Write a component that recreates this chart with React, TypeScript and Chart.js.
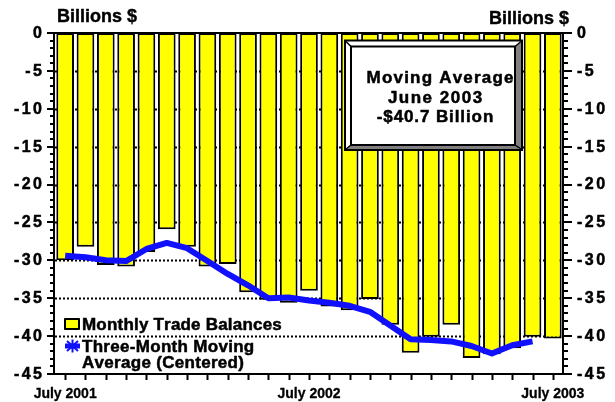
import React, { useEffect, useRef } from "react";
import { Chart, registerables } from "chart.js";

Chart.register(...registerables);

const months = [
  "Jul 2001", "Aug 2001", "Sep 2001", "Oct 2001", "Nov 2001", "Dec 2001",
  "Jan 2002", "Feb 2002", "Mar 2002", "Apr 2002", "May 2002", "Jun 2002",
  "Jul 2002", "Aug 2002", "Sep 2002", "Oct 2002", "Nov 2002", "Dec 2002",
  "Jan 2003", "Feb 2003", "Mar 2003", "Apr 2003", "May 2003", "Jun 2003", "Jul 2003",
];
const monthlyBalances = [
  -30.0, -28.2, -30.6, -30.8, -28.9, -25.9, -28.2, -30.8, -30.5, -34.2, -35.2, -35.6,
  -34.0, -36.1, -36.6, -35.1, -38.5, -42.2, -40.1, -38.5, -42.9, -42.4, -41.6, -40.1, -40.3,
];
const movingAverage = [
  -29.4, -29.6, -30.0, -30.1, -28.5, -27.7, -28.4, -30.1, -31.8, -33.3, -35.0, -34.9,
  -35.3, -35.6, -36.0, -36.8, -38.6, -40.4, -40.5, -40.7, -41.3, -42.3, -41.2, -40.7, null,
];
const xTickLabels: Record<number, string> = { 0: "July 2001", 12: "July 2002", 24: "July 2003" };
const yTickValues = [0, -5, -10, -15, -20, -25, -30, -35, -40, -45];
const axisTitle = "Billions $";
const boxLines = ["Moving Average", "June 2003", "-$40.7 Billion"];
const legendBars = "Monthly Trade Balances";
const legendLine = ["Three-Month Moving", "Average (Centered)"];

const FONT = '"Liberation Sans", Arial, sans-serif';

// draw text char by char with extra spacing; heavy = slight stroke to thicken
function drawText(ctx: any, text: string, x: number, y: number, align: string, spacing: number, heavy = 0.5) {
  const chars = Array.from(text);
  const widths = chars.map((c) => ctx.measureText(c).width);
  const total = widths.reduce((s, w) => s + w, 0) + spacing * (chars.length - 1);
  let cx = x;
  if (align === "right") cx = x - total;
  else if (align === "center") cx = x - total / 2;
  ctx.textAlign = "left";
  ctx.lineWidth = heavy;
  ctx.lineJoin = "round";
  for (let i = 0; i < chars.length; i++) {
    ctx.fillText(chars[i], cx, y);
    if (heavy > 0) ctx.strokeText(chars[i], cx, y);
    cx += widths[i] + spacing;
  }
}

const customPlugin = {
  id: "customDraw",
  beforeDatasetsDraw(chart: any) {
    const { ctx, chartArea: a, scales } = chart;
    const y = scales.y;
    ctx.save();
    ctx.strokeStyle = "#000";
    ctx.lineWidth = 2;
    ctx.setLineDash([2, 2]);
    for (const v of yTickValues) {
      if (v === 0 || v === -45) continue;
      const py = Math.round(y.getPixelForValue(v)) + 0.5;
      ctx.beginPath();
      ctx.moveTo(a.left, py);
      ctx.lineTo(a.right, py);
      ctx.stroke();
    }
    ctx.restore();
  },
  afterDatasetsDraw(chart: any) {
    const { ctx, chartArea: a, scales } = chart;
    const y = scales.y;
    const x = scales.x;
    ctx.save();
    ctx.setLineDash([]);
    ctx.strokeStyle = "#000";
    ctx.fillStyle = "#000";
    // frame
    ctx.lineWidth = 2;
    ctx.beginPath();
    ctx.moveTo(a.left - 1, a.top);
    ctx.lineTo(a.right + 1, a.top);
    ctx.moveTo(a.left - 1, a.bottom);
    ctx.lineTo(a.right + 1, a.bottom);
    ctx.moveTo(a.left - 1, a.top);
    ctx.lineTo(a.left - 1, a.bottom);
    ctx.moveTo(a.right, a.top);
    ctx.lineTo(a.right, a.bottom);
    ctx.stroke();
    // minor / major y ticks
    ctx.lineWidth = 2;
    for (let v = 0; v >= -45; v--) {
      const py = Math.round(y.getPixelForValue(v));
      const major = v % 5 === 0;
      ctx.beginPath();
      ctx.moveTo(a.left - 1, py);
      ctx.lineTo(a.left - (major ? 8 : 5), py);
      ctx.moveTo(a.right, py);
      ctx.lineTo(a.right + (major ? 9 : 5), py);
      ctx.stroke();
    }
    // x ticks
    for (let i = 0; i < months.length; i++) {
      const px = Math.round(x.getPixelForValue(i)) + 0.5;
      ctx.beginPath();
      ctx.moveTo(px, a.bottom);
      ctx.lineTo(px, a.bottom + 6);
      ctx.stroke();
    }
    ctx.strokeStyle = "#000";
    ctx.fillStyle = "#000";
    // y tick labels
    ctx.font = `bold 16px ${FONT}`;
    ctx.textBaseline = "middle";
    for (const v of yTickValues) {
      const py = y.getPixelForValue(v) + 0.5;
      const s = String(v);
      drawText(ctx, s, 42, py, "right", 2.5);
      drawText(ctx, s, 577, py, "left", 2.5);
    }
    // x tick labels
    ctx.font = `bold 14px ${FONT}`;
    ctx.textBaseline = "alphabetic";
    for (const k of Object.keys(xTickLabels)) {
      const i = Number(k);
      drawText(ctx, xTickLabels[i], x.getPixelForValue(i), 398, "center", 0, 0.3);
    }
    // axis titles
    ctx.font = `bold 18px ${FONT}`;
    drawText(ctx, axisTitle, 57, 22, "left", 0, 0.4);
    drawText(ctx, axisTitle, 569, 24, "right", 0, 0.4);

    // annotation box
    const ox0 = 344, ox1 = 523, oy0 = 39.5, oy1 = 151;
    const ix0 = 351, ix1 = 515, iy0 = 46.5, iy1 = 145;
    ctx.fillStyle = "#000";
    ctx.fillRect(ox0, oy0, ox1 - ox0, oy1 - oy0);
    ctx.fillStyle = "#fff";
    ctx.fillRect(ox0 + 2, oy0 + 2, ox1 - ox0 - 4, oy1 - oy0 - 4);
    ctx.fillStyle = "#808080";
    ctx.beginPath();
    ctx.moveTo(ox1 - 2, oy0 + 2);
    ctx.lineTo(ox1 - 2, oy1 - 2);
    ctx.lineTo(ox0 + 2, oy1 - 2);
    ctx.lineTo(ix0, iy1);
    ctx.lineTo(ix1, iy1);
    ctx.lineTo(ix1, iy0);
    ctx.closePath();
    ctx.fill();
    ctx.fillStyle = "#fff";
    ctx.fillRect(ix0, iy0, ix1 - ix0, iy1 - iy0);
    ctx.lineWidth = 2;
    ctx.strokeStyle = "#000";
    ctx.strokeRect(ix0, iy0, ix1 - ix0, iy1 - iy0);
    ctx.lineWidth = 1.5;
    ctx.beginPath();
    ctx.moveTo(ox0 + 2, oy0 + 2); ctx.lineTo(ix0, iy0);
    ctx.moveTo(ox1 - 2, oy0 + 2); ctx.lineTo(ix1, iy0);
    ctx.moveTo(ox0 + 2, oy1 - 2); ctx.lineTo(ix0, iy1);
    ctx.moveTo(ox1 - 2, oy1 - 2); ctx.lineTo(ix1, iy1);
    ctx.stroke();
    ctx.fillStyle = "#000";
    ctx.strokeStyle = "#000";
    ctx.font = `bold 17px ${FONT}`;
    ctx.textBaseline = "alphabetic";
    drawText(ctx, boxLines[0], 440, 83, "center", 1.2);
    drawText(ctx, boxLines[1], 435, 103, "center", 1.5);
    drawText(ctx, boxLines[2], 435, 122, "center", 0.9);

    // legend
    ctx.fillStyle = "#ffff00";
    ctx.fillRect(64, 318, 16, 12);
    ctx.lineWidth = 2;
    ctx.strokeStyle = "#000";
    ctx.strokeRect(65, 319, 14, 10);
    ctx.strokeStyle = "#1010ff";
    ctx.lineWidth = 5;
    ctx.beginPath();
    ctx.moveTo(65, 346);
    ctx.lineTo(80, 346);
    ctx.stroke();
    ctx.lineWidth = 2;
    ctx.beginPath();
    ctx.moveTo(72.5, 339.5); ctx.lineTo(72.5, 352.5);
    ctx.moveTo(67, 341); ctx.lineTo(78, 351);
    ctx.moveTo(78, 341); ctx.lineTo(67, 351);
    ctx.stroke();
    ctx.fillStyle = "#000";
    ctx.strokeStyle = "#000";
    ctx.font = `bold 17px ${FONT}`;
    drawText(ctx, legendBars, 82, 330, "left", 0.2);
    drawText(ctx, legendLine[0], 82, 352, "left", 0.3);
    drawText(ctx, legendLine[1], 82, 368, "left", 0.3);
    ctx.restore();
  },
};

export default function App() {
  const ref = useRef<HTMLCanvasElement>(null);
  useEffect(() => {
    if (!ref.current) return;
    const chart = new Chart(ref.current, {
      type: "bar",
      data: {
        labels: months,
        datasets: [
          {
            type: "line",
            label: "Three-Month Moving Average (Centered)",
            data: movingAverage,
            borderColor: "#1010ff",
            backgroundColor: "#1010ff",
            borderWidth: 6,
            pointRadius: 0,
            tension: 0,
            borderJoinStyle: "round",
            borderCapStyle: "butt",
            yAxisID: "y",
            order: 0,
          } as any,
          {
            type: "bar",
            label: "Monthly Trade Balances",
            data: monthlyBalances,
            backgroundColor: "#ffff00",
            borderColor: "#000000",
            borderWidth: 2,
            borderSkipped: false,
            barPercentage: 0.87,
            categoryPercentage: 1,
            yAxisID: "y",
            order: 1,
          } as any,
        ],
      },
      options: {
        responsive: false,
        animation: false,
        devicePixelRatio: 1,
        layout: { padding: { top: 33, left: 0, right: 0, bottom: 0 } },
        plugins: { legend: { display: false }, tooltip: { enabled: false } },
        scales: {
          x: {
            type: "category",
            offset: true,
            ticks: { display: false },
            grid: { display: false },
            border: { display: false },
            afterFit: (s: any) => { s.height = 28; },
          },
          y: {
            position: "left",
            min: -45,
            max: 0,
            ticks: { display: false, stepSize: 5 },
            grid: { display: false },
            border: { display: false },
            afterFit: (s: any) => { s.width = 55; },
          },
          y2: {
            position: "right",
            min: -45,
            max: 0,
            ticks: { display: false, stepSize: 5 },
            grid: { display: false },
            border: { display: false },
            afterFit: (s: any) => { s.width = 52; },
          },
        },
      } as any,
      plugins: [customPlugin],
    });
    return () => chart.destroy();
  }, []);
  return (
    <div style={{ position: "fixed", left: 0, top: 0, width: 615, height: 402, background: "#fff" }}>
      <canvas ref={ref} width={615} height={402} style={{ width: 615, height: 402, display: "block" }} />
    </div>
  );
}
